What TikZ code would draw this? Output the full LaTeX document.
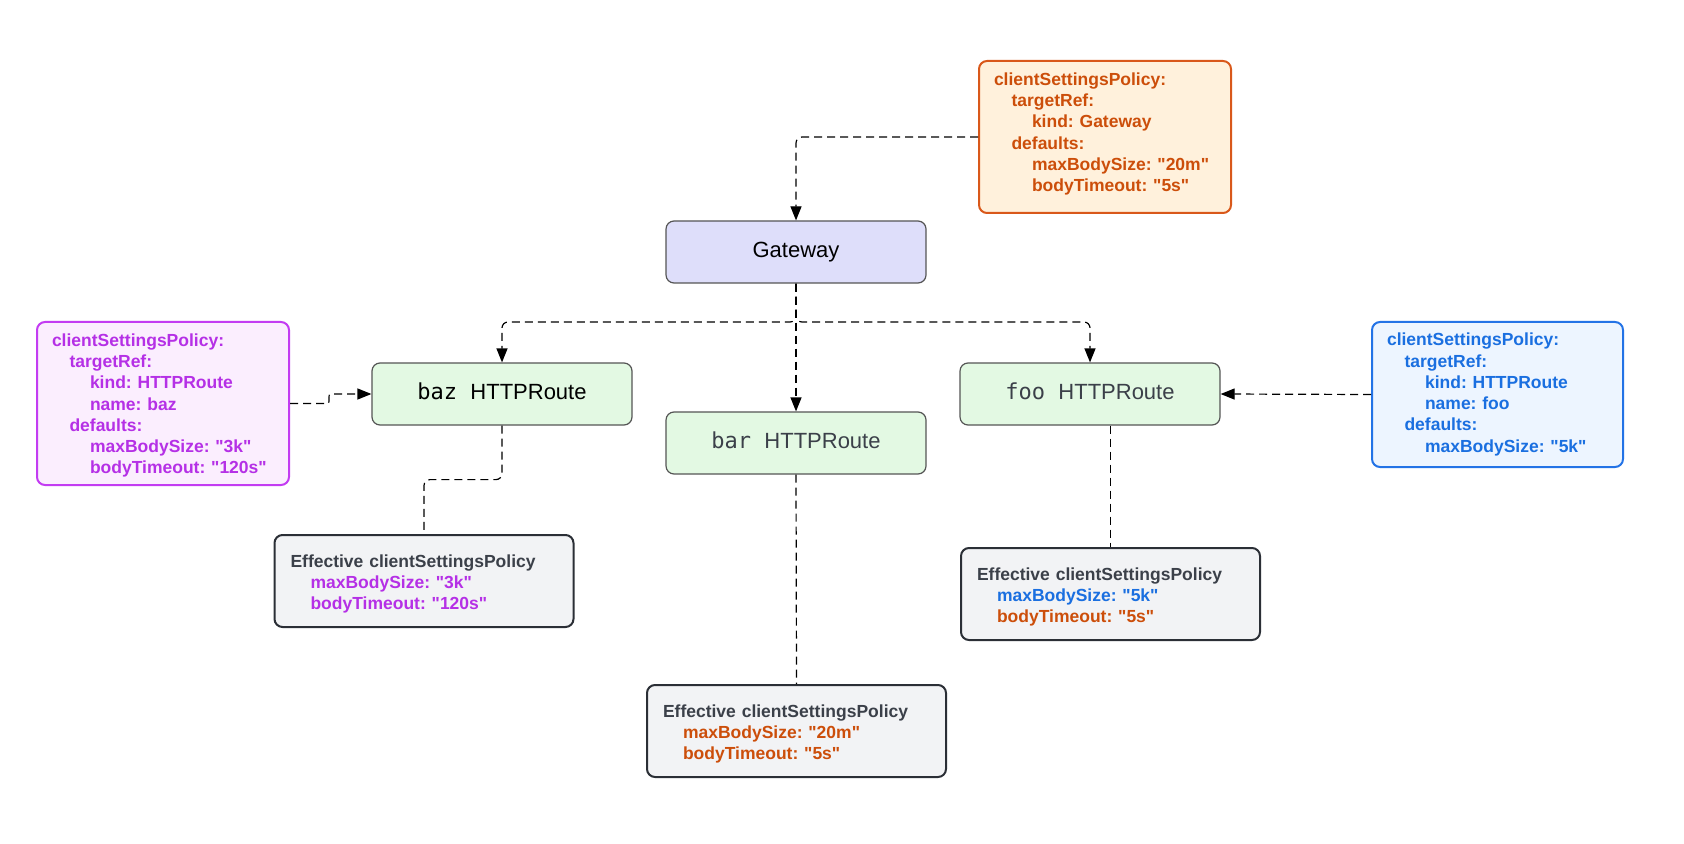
\documentclass[tikz,border=0pt]{standalone}
\usepackage{fontspec}
\setmainfont{Liberation Sans}[Ligatures=TeXOff]
\newfontfamily\monof{DejaVu Sans Mono}
\usetikzlibrary{arrows.meta,calc}
\frenchspacing
\definecolor{ortext}{HTML}{CC4E0A}
\definecolor{orline}{HTML}{D9581A}
\definecolor{orfill}{HTML}{FFF1DC}
\definecolor{mgtext}{HTML}{B530E6}
\definecolor{mgline}{HTML}{C33CF2}
\definecolor{mgfill}{HTML}{FBEEFE}
\definecolor{bltext}{HTML}{1A6FE0}
\definecolor{blline}{HTML}{2373E6}
\definecolor{blfill}{HTML}{EDF5FF}
\definecolor{efftext}{HTML}{3B4049}
\definecolor{effline}{HTML}{2B2F36}
\definecolor{efffill}{HTML}{F2F3F5}
\definecolor{gwfill}{HTML}{DEDEFA}
\definecolor{rtfill}{HTML}{E3F9E3}
\definecolor{boxline}{HTML}{555555}
\tikzset{
  rbox/.style={draw=boxline, line width=0.6pt, rounded corners=4pt,
    minimum width=130pt, minimum height=31pt, inner sep=0pt,
    font=\fontsize{11}{13}\selectfont},
  gwbox/.style={rbox, fill=gwfill},
  rtbox/.style={rbox, fill=rtfill, text depth=3.2pt},
  polbox/.style={line width=1pt, rounded corners=4pt, align=left,
    inner xsep=7.5pt, inner ysep=0pt, text width=111pt,
    font=\bfseries\fontsize{8.75}{10.65}\selectfont},
  effbox/.style={draw=effline, fill=efffill, line width=1pt, rounded corners=4pt,
    align=left, inner xsep=8pt, inner ysep=0pt, text width=133.5pt,
    minimum height=46pt, font=\bfseries\fontsize{8.75}{10.5}\selectfont},
  conn/.style={draw=black, line width=0.6pt, dash pattern=on 4pt off 2.5pt,
    rounded corners=3pt},
  arr/.style={conn, -{Triangle[length=7pt,width=5.5pt]}}
}
\newcommand{\ia}{\hspace*{8.75pt}}
\newcommand{\ib}{\hspace*{19pt}}
\newcommand{\qq}{\symbol{34}}
\newcommand{\uph}[1]{\rule{0pt}{#1}}
\newcommand{\dnd}[1]{\rule[-#1]{0pt}{0pt}}
\begin{document}
\begin{tikzpicture}[x=0.5pt,y=-0.5pt]
\useasboundingbox (0,0) rectangle (1684,844);
% main nodes
\node[gwbox] (gw) at (796,252) {Gateway};
\node[rtbox] (baz) at (502,394) {{\monof baz }HTTPRoute};
\node[rtbox, text=efftext] (bar) at (796,443) {{\monof bar }HTTPRoute};
\node[rtbox, text=efftext] (foo) at (1090,394) {{\monof foo }HTTPRoute};
% policies
\node[polbox, draw=orline, fill=orfill, text=ortext, minimum height=76pt] (opol) at (1105,137) {clientSettingsPolicy:\\
\ia targetRef:\\
\ib kind: Gateway\\
\ia defaults:\\
\ib maxBodySize: \qq20m\qq\\
\ib bodyTimeout: \qq5s\qq\dnd{4.8pt}};
\node[polbox, draw=mgline, fill=mgfill, text=mgtext, minimum height=81.5pt] (mpol) at (163,403.5) {\uph{8.4pt}clientSettingsPolicy:\\
\ia targetRef:\\
\ib kind: HTTPRoute\\
\ib name: baz\\
\ia defaults:\\
\ib maxBodySize: \qq3k\qq\\
\ib bodyTimeout: \qq120s\qq};
\node[polbox, draw=blline, fill=blfill, text=bltext, minimum height=72.5pt, text width=110.5pt] (bpol) at (1497.5,394.5) {clientSettingsPolicy:\\
\ia targetRef:\\
\ib kind: HTTPRoute\\
\ib name: foo\\
\ia defaults:\\
\ib maxBodySize: \qq5k\qq};
% effective
\node[effbox, text=mgtext] (bazE) at (424,581) {\uph{9.4pt}{\color{efftext}Effective clientSettingsPolicy}\\
\hspace*{10pt}maxBodySize: \qq3k\qq\\
\hspace*{10pt}bodyTimeout: \qq120s\qq};
\node[effbox, text=ortext] (barE) at (796.5,731) {\uph{9.4pt}{\color{efftext}Effective clientSettingsPolicy}\\
\hspace*{10pt}maxBodySize: \qq20m\qq\\
\hspace*{10pt}bodyTimeout: \qq5s\qq};
\node[effbox] (fooE) at (1110.5,594) {\uph{9.4pt}{\color{efftext}Effective clientSettingsPolicy}\\
\hspace*{10pt}{\color{bltext}maxBodySize: \qq5k\qq}\\
\hspace*{10pt}{\color{ortext}bodyTimeout: \qq5s\qq}};
% connectors
\coordinate (j) at (796,322);
\draw[arr] (opol.west) -| (gw.north);
\draw[arr] (gw.south) -- (j) -| (baz.north);
\draw[arr] (gw.south) -- (j) -| (foo.north);
\draw[arr] (gw.south) -- (bar.north);
\draw[arr] (mpol.east) -- (322,403.5) .. controls (330,403.5) and (328,394) .. (336,394) -- (baz.west);
\draw[arr] (bpol.west) -- (foo.east);
\draw[conn] (baz.south) -- ++(0,54) -| (bazE.north);
\draw[conn] (bar.south) -- (barE.north);
\draw[conn] (foo.south -| fooE.north) -- (fooE.north);
\end{tikzpicture}
\end{document}
